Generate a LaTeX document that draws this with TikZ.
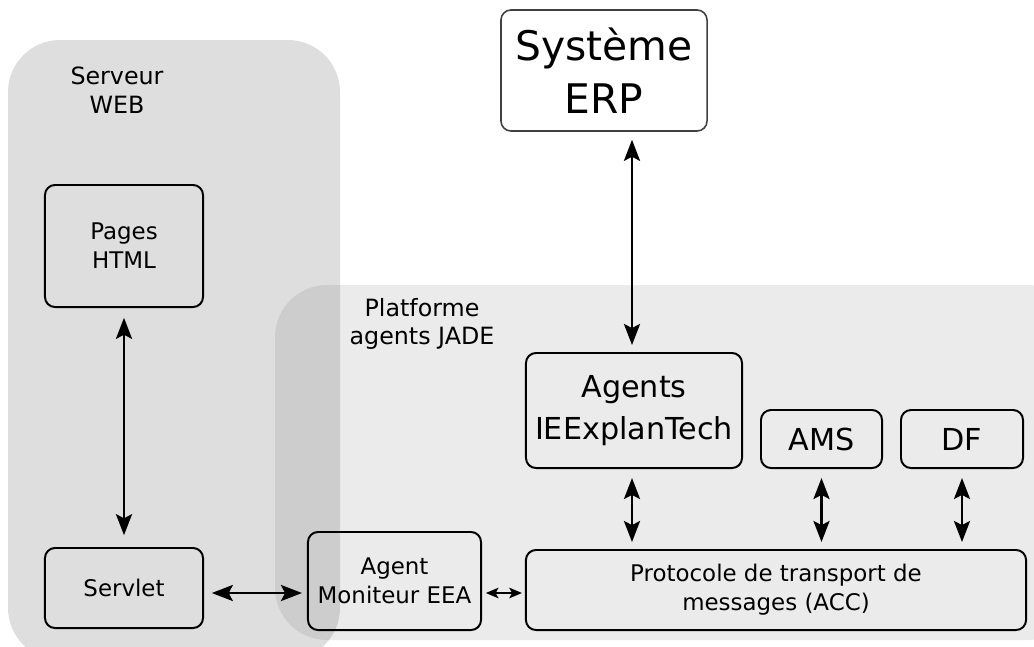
\documentclass[tikz,border=0pt]{standalone}
\usepackage{fontspec}
\setmainfont{DejaVu Sans}
\usetikzlibrary{arrows.meta, calc}
\newcommand\fsmall{\fontsize{16.3}{20.5}\selectfont}
\newcommand\flabel{\fontsize{16.9}{20.5}\selectfont}
\newcommand\fmid{\fontsize{21.5}{30}\selectfont}
\newcommand\fbig{\fontsize{29}{37.7}\selectfont}

\begin{document}
\begin{tikzpicture}[x=0.025cm, y=-0.025cm,
    bloc/.style={draw, line width=1.4pt, rounded corners=0.25cm,
      align=center, inner sep=0pt, outer sep=0pt},
    zone/.style={fill=black, fill opacity=#1, rounded corners=1.3cm}]
    \tikzset{
      lien/.style={
        {Stealth[length=15pt,width=11.5pt,inset=3pt]}-{Stealth[length=15pt,width=11.5pt,inset=3pt]},
        line width=1.5pt,
      },
      petitlien/.style={
        {Stealth[length=9pt,width=7.5pt,inset=2pt]}-{Stealth[length=9pt,width=7.5pt,inset=2pt]},
        line width=1.3pt,
      }
    }
    \clip (0,0) rectangle (1034,646);

    % les deux zones grises
    \path[zone=0.13] (8,40) rectangle (340,660);
    \path[zone=0.08] (275,285) rectangle (1080,640);

    \node[font=\flabel, align=center] (web)  at (117,90)  {Serveur\\WEB};
    \node[font=\flabel, align=center] (jade) at (422,324) {Platforme\\agents JADE};

    \node[bloc, font=\fsmall, minimum width=3.95cm, minimum height=3.05cm]
        (html) at (124,246) {Pages\\HTML};
    \node[bloc, font=\fsmall, minimum width=3.95cm, minimum height=2cm]
        (servlet) at (124,588) {Servlet};
    \node[bloc, font=\fbig, fill=white, draw=black!75, line width=1.1pt,
          minimum width=5.15cm, minimum height=3.025cm]
        (erp) at (604,70.5) {Système\\ERP};
    \node[bloc, font=\fmid, minimum width=5.4cm, minimum height=2.875cm]
        (iee) at (634,410.5) {Agents\\IEExplanTech};
    \node[bloc, font=\fmid, minimum width=3.025cm, minimum height=1.45cm]
        (ams) at (821.5,439) {AMS};
    \node[bloc, font=\fmid, minimum width=3.05cm, minimum height=1.45cm]
        (df) at (962,439) {DF};
    \node[bloc, font=\fsmall, minimum width=12.5cm, minimum height=2cm]
        (acc) at (776,590) {Protocole de transport de\\messages (ACC)};
    \node[bloc, font=\fsmall, minimum width=4.325cm, minimum height=2.45cm]
        (moni) at (394.5,581) {Agent\\Moniteur EEA};

    \draw[lien, shorten <=0.27cm, shorten >=0.32cm] (html) -- (servlet);
    \draw[lien, shorten <=0.22cm, shorten >=0.2cm] ($(iee.north |- erp.south)+(-2,0)$) -- ($(iee.north)+(-2,0)$);
    \draw[lien, shorten <=0.25cm, shorten >=0.2cm] ($(iee.south)+(-2,0)$) -- ($(iee.south |- acc.north)+(-2,0)$);
    \draw[lien, shorten <=0.25cm, shorten >=0.2cm] (ams.south) -- (ams.south |- acc.north);
    \draw[lien, shorten <=0.25cm, shorten >=0.2cm] (df.south) -- (df.south |- acc.north);
    \draw[lien, shorten <=0.22cm, shorten >=0.15cm] ($(servlet.east)+(0,5)$) -- ($(servlet.east -| moni.west)+(0,5)$);
    \draw[petitlien, shorten <=0.12cm, shorten >=0.1cm] ($(acc.west -| moni.east)+(0,3)$) -- ($(acc.west)+(0,3)$);
\end{tikzpicture}
\end{document}
